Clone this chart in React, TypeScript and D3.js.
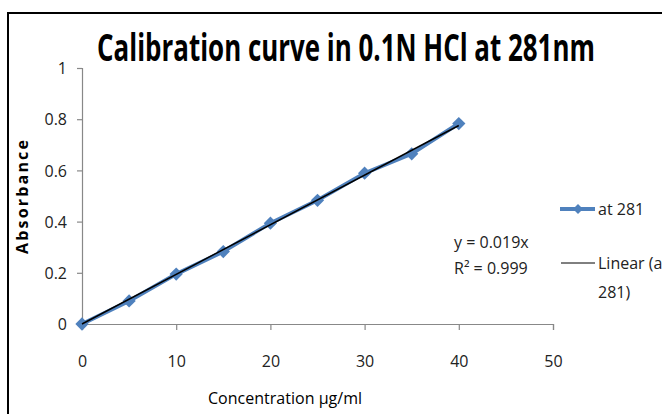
import { useEffect, useRef } from "react";
import * as d3 from "d3";

const concentrations = [0, 5, 10, 15, 20, 25, 30, 35, 40];
const absorbance = [0, 0.09, 0.195, 0.283, 0.394, 0.483, 0.589, 0.665, 0.783];
const xTicks = [0, 10, 20, 30, 40, 50];
const yTicks = [0, 0.2, 0.4, 0.6, 0.8, 1];
const seriesName = "at 281";
const trendName = ["Linear (at", "281)"];
const equationLines = ["y = 0.019x", "R² = 0.999"];

const FONT = "'Open Sans', Arial, sans-serif";

function App() {
  const svgRef = useRef<SVGSVGElement>(null);

  useEffect(() => {
    const width = 662;
    const height = 414;
    const margin = { top: 68, right: 109, bottom: 90, left: 82 };

    const svg = d3.select(svgRef.current).attr("width", width).attr("height", height);
    svg.selectAll("*").remove();

    svg.append("rect").attr("width", width).attr("height", height).attr("fill", "white");

    // outer chart border
    svg
      .append("rect")
      .attr("x", 8)
      .attr("y", 13)
      .attr("width", 700)
      .attr("height", 450)
      .attr("fill", "none")
      .attr("stroke", "black")
      .attr("stroke-width", 2);

    const x = d3.scaleLinear().domain([0, 50]).range([margin.left, width - margin.right]);
    const y = d3.scaleLinear().domain([0, 1]).range([height - margin.bottom, margin.top]);

    // title, squeezed horizontally to the narrow width of the original
    const title = svg
      .append("text")
      .attr("text-anchor", "middle")
      .attr("font-family", FONT)
      .attr("font-weight", "bold")
      .attr("font-size", 38)
      .attr("fill", "black")
      .text("Calibration curve in 0.1N HCl at 281nm");
    const tw = (title.node() as SVGTextElement).getComputedTextLength() || 498;
    title.attr("transform", `translate(346,61) scale(${498 / tw},1)`);

    // axes
    const xAxis = svg
      .append("g")
      .attr("transform", `translate(0,${y(0)})`)
      .call(d3.axisBottom(x).tickValues(xTicks).tickSize(6).tickPadding(26).tickFormat(d3.format("d")));
    const yAxis = svg
      .append("g")
      .attr("transform", `translate(${x(0)},0)`)
      .call(d3.axisLeft(y).tickValues(yTicks).tickSize(5).tickPadding(10).tickFormat((d) => String(d)));

    [xAxis, yAxis].forEach((g) => {
      g.select(".domain").attr("stroke", "#888888").attr("stroke-width", 1.2);
      g.selectAll(".tick line").attr("stroke", "#888888").attr("stroke-width", 1.2);
      g.selectAll(".tick text")
        .attr("font-family", FONT)
        .attr("font-size", 16)
        .attr("fill", "#222");
    });
    yAxis.selectAll(".tick text").attr("dy", "0.35em");

    // axis titles
    svg
      .append("text")
      .attr("x", 285)
      .attr("y", 404)
      .attr("text-anchor", "middle")
      .attr("font-family", FONT)
      .attr("font-size", 16)
      .attr("textLength", 154)
      .attr("fill", "black")
      .text("Concentration  µg/ml");

    svg
      .append("text")
      .attr("transform", `translate(28,197) rotate(-90)`)
      .attr("text-anchor", "middle")
      .attr("font-family", FONT)
      .attr("font-weight", "bold")
      .attr("font-size", 16)
      .attr("textLength", 114)
      .attr("fill", "black")
      .text("Absorbance");

    const data = concentrations.map((c, i) => ({ c, a: absorbance[i] }));
    const diamond = d3.symbol().type(d3.symbolSquare).size(88);

    // series line
    svg
      .append("path")
      .datum(data)
      .attr("fill", "none")
      .attr("stroke", "#4F81BD")
      .attr("stroke-width", 4)
      .attr("d", d3.line<{ c: number; a: number }>().x((d) => x(d.c)).y((d) => y(d.a)));

    svg
      .selectAll(".pt")
      .data(data)
      .enter()
      .append("path")
      .attr("class", "pt")
      .attr("transform", (d) => `translate(${x(d.c)},${y(d.a)}) rotate(45)`)
      .attr("d", diamond)
      .attr("fill", "#4F81BD");

    // linear trend through origin
    const slope = d3.sum(data, (d) => d.c * d.a) / d3.sum(data, (d) => d.c * d.c);
    const maxC = d3.max(concentrations) as number;
    svg
      .append("line")
      .attr("x1", x(0))
      .attr("y1", y(0))
      .attr("x2", x(maxC))
      .attr("y2", y(slope * maxC))
      .attr("stroke", "black")
      .attr("stroke-width", 1.5);

    // equation
    equationLines.forEach((t, i) => {
      svg
        .append("text")
        .attr("x", 454)
        .attr("y", 248 + i * 26)
        .attr("font-family", FONT)
        .attr("font-size", 16)
        .attr("fill", "#222")
        .text(t);
    });

    // legend
    const lg = svg.append("g");
    lg.append("line")
      .attr("x1", 560).attr("x2", 595).attr("y1", 209).attr("y2", 209)
      .attr("stroke", "#4F81BD").attr("stroke-width", 4);
    lg.append("path")
      .attr("transform", "translate(578,209) rotate(45)")
      .attr("d", d3.symbol().type(d3.symbolSquare).size(50))
      .attr("fill", "#4F81BD");
    lg.append("text")
      .attr("x", 598).attr("y", 209).attr("dy", "0.35em")
      .attr("font-family", FONT).attr("font-size", 16).attr("fill", "#222")
      .text(seriesName);
    lg.append("line")
      .attr("x1", 561).attr("x2", 595).attr("y1", 263).attr("y2", 263)
      .attr("stroke", "black").attr("stroke-width", 1);
    trendName.forEach((t, i) => {
      lg.append("text")
        .attr("x", 598).attr("y", 263 + i * 29).attr("dy", "0.35em")
        .attr("font-family", FONT).attr("font-size", 16).attr("fill", "#222")
        .text(t);
    });
  }, []);

  return (
    <div style={{ position: "absolute", left: 0, top: 0 }}>
      <svg ref={svgRef} style={{ display: "block" }}></svg>
    </div>
  );
}

export default App;
